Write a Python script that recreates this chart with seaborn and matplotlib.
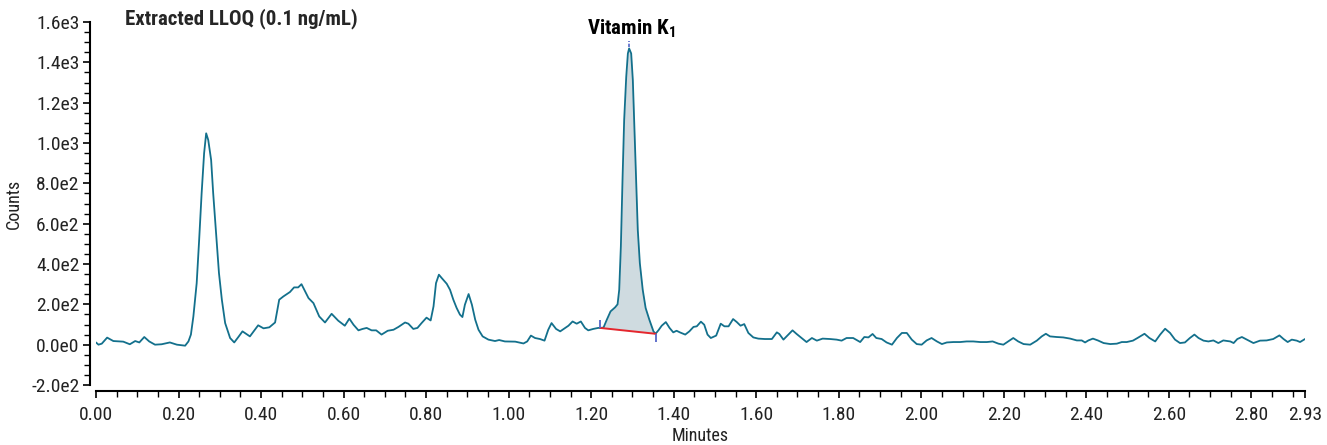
import numpy as np
import pandas as pd
import matplotlib
matplotlib.use("Agg")
import matplotlib.pyplot as plt
from matplotlib import font_manager
from matplotlib.ticker import MultipleLocator, FixedLocator
import seaborn as sns

# ---------------- data ----------------
minutes = [
    0.000, 0.006, 0.014, 0.027, 0.042, 0.066, 0.082, 0.095, 0.105, 0.117, 0.129, 0.143, 0.159, 0.179, 0.196, 0.216,
    0.224, 0.230, 0.236, 0.244, 0.250, 0.256, 0.262, 0.267, 0.272, 0.279, 0.284, 0.291, 0.298, 0.305, 0.313, 0.325,
    0.335, 0.345, 0.355, 0.373, 0.393, 0.406, 0.420, 0.434, 0.444, 0.454, 0.470, 0.480, 0.490, 0.498, 0.507, 0.515,
    0.527, 0.541, 0.555, 0.571, 0.587, 0.603, 0.614, 0.624, 0.636, 0.646, 0.656, 0.668, 0.679, 0.692, 0.707, 0.721,
    0.733, 0.749, 0.757, 0.769, 0.779, 0.789, 0.801, 0.811, 0.818, 0.824, 0.831, 0.838, 0.850, 0.858, 0.866, 0.874,
    0.882, 0.888, 0.894, 0.903, 0.911, 0.919, 0.927, 0.937, 0.951, 0.967, 0.977, 0.991, 1.016, 1.036, 1.045, 1.054,
    1.064, 1.076, 1.087, 1.096, 1.104, 1.115, 1.125, 1.137, 1.145, 1.155, 1.165, 1.175, 1.185, 1.193, 1.205, 1.217,
    1.222, 1.230, 1.238, 1.247, 1.258, 1.264, 1.268, 1.272, 1.276, 1.280, 1.285, 1.289, 1.292, 1.297, 1.301, 1.305,
    1.309, 1.313, 1.318, 1.325, 1.332, 1.341, 1.351, 1.356, 1.363, 1.371, 1.381, 1.390, 1.399, 1.407, 1.415, 1.428,
    1.438, 1.448, 1.456, 1.466, 1.474, 1.482, 1.490, 1.503, 1.514, 1.523, 1.533, 1.544, 1.553, 1.562, 1.571, 1.581,
    1.593, 1.605, 1.621, 1.638, 1.650, 1.656, 1.666, 1.678, 1.688, 1.698, 1.710, 1.722, 1.735, 1.747, 1.761, 1.779,
    1.795, 1.807, 1.819, 1.835, 1.852, 1.862, 1.872, 1.882, 1.891, 1.904, 1.916, 1.929, 1.941, 1.953, 1.965, 1.977,
    1.989, 2.001, 2.013, 2.025, 2.038, 2.050, 2.062, 2.078, 2.094, 2.110, 2.126, 2.143, 2.159, 2.173, 2.187, 2.199,
    2.207, 2.223, 2.235, 2.248, 2.264, 2.280, 2.292, 2.302, 2.312, 2.328, 2.344, 2.361, 2.377, 2.389, 2.397, 2.405,
    2.416, 2.428, 2.442, 2.458, 2.474, 2.486, 2.498, 2.513, 2.524, 2.541, 2.553, 2.567, 2.579, 2.591, 2.603, 2.615,
    2.627, 2.639, 2.651, 2.662, 2.672, 2.684, 2.696, 2.708, 2.720, 2.732, 2.749, 2.757, 2.766, 2.777, 2.789, 2.805,
    2.821, 2.837, 2.853, 2.868, 2.878, 2.888, 2.898, 2.910, 2.918, 2.930,
]
counts = [
    11, 0, 5, 35, 18, 15, 2, 18, 11, 38, 16, 0, 2, 11, 0, -5,
    16, 50, 140, 305, 520, 751, 949, 1048, 1015, 916, 751, 553, 355, 223, 107, 33,
    11, 38, 66, 41, 96, 81, 86, 110, 223, 239, 261, 284, 284, 300, 264, 231,
    206, 140, 110, 153, 119, 94, 129, 99, 71, 78, 83, 71, 71, 50, 69, 74,
    88, 110, 104, 78, 83, 107, 134, 120, 190, 305, 347, 330, 302, 272, 223, 182,
    149, 137, 198, 251, 198, 124, 74, 41, 25, 18, 23, 16, 15, 6, 16, 45,
    33, 28, 20, 74, 107, 78, 66, 83, 94, 115, 104, 115, 83, 71, 78, 83,
    83, 85, 124, 165, 185, 200, 272, 487, 817, 1114, 1328, 1444, 1469, 1444, 1312, 1064,
    800, 569, 404, 272, 182, 124, 66, 54, 71, 94, 112, 83, 61, 69, 61, 50,
    66, 88, 91, 114, 99, 50, 33, 45, 104, 91, 91, 127, 112, 94, 102, 58,
    36, 30, 28, 28, 61, 53, 25, 50, 71, 53, 33, 13, 33, 20, 30, 28,
    25, 20, 33, 33, 13, 38, 36, 53, 33, 28, 11, 0, 33, 58, 58, 25,
    3, 0, 21, 33, 16, 3, 11, 13, 13, 16, 16, 13, 13, 16, 5, 0,
    11, 33, 16, 3, 0, 20, 41, 54, 41, 38, 36, 30, 21, 21, 11, 21,
    30, 21, 8, 3, 5, 13, 13, 20, 33, 54, 33, 16, 50, 79, 58, 25,
    8, 11, 33, 50, 33, 20, 16, 21, 8, 21, 16, 8, 28, 38, 25, 8,
    20, 21, 28, 46, 28, 13, 25, 20, 13, 28,
]

# integrated peak (Vitamin K1)
peak_name = "Vitamin K"
peak_start = 1.222
peak_end = 1.356
peak_apex = 1.292
baseline_counts = [83, 54]

x_ticks = [0.00, 0.20, 0.40, 0.60, 0.80, 1.00, 1.20, 1.40, 1.60, 1.80, 2.00, 2.20, 2.40, 2.60, 2.80, 2.93]
x_tick_labels = ["0.00", "0.20", "0.40", "0.60", "0.80", "1.00", "1.20", "1.40", "1.60", "1.80",
                 "2.00", "2.20", "2.40", "2.60", "2.80", "2.93"]
y_ticks = [-200, 0, 200, 400, 600, 800, 1000, 1200, 1400, 1600]
y_tick_labels = ["-2.0e2", "0.0e0", "2.0e2", "4.0e2", "6.0e2", "8.0e2", "1.0e3", "1.2e3", "1.4e3", "1.6e3"]

title_text = "Extracted LLOQ (0.1 ng/mL)"
x_label = "Minutes"
y_label = "Counts"

# ---------------- style ----------------
sns.set_theme(style="ticks")
installed = {f.name for f in font_manager.fontManager.ttflist}
fam = [f for f in ["Liberation Sans Narrow", "Roboto Condensed", "Liberation Sans", "DejaVu Sans"] if f in installed]
plt.rcParams["font.family"] = fam
plt.rcParams["mathtext.fontset"] = "custom"
plt.rcParams["mathtext.rm"] = fam[0]
plt.rcParams["mathtext.bf"] = fam[0] + ":bold"

LINE = "#13708c"
FILL = "#cfdbe0"
RED = "#e5262d"
MARK = "#5566c8"

fig = plt.figure(figsize=(13.27, 4.45), dpi=100)
ax = fig.add_axes([96 / 1327, 1 - 385 / 445, (1305 - 96) / 1327, (385 - 22) / 445])

df = pd.DataFrame({"Minutes": minutes, "Counts": counts})
sns.lineplot(data=df, x="Minutes", y="Counts", ax=ax, color=LINE, linewidth=1.3, zorder=3)

# peak fill between trace and integration baseline
t = np.asarray(minutes)
c = np.asarray(counts, dtype=float)
mask = (t >= peak_start) & (t <= peak_end)
base = np.interp(t[mask], [peak_start, peak_end], baseline_counts)
ax.fill_between(t[mask], base, c[mask], color=FILL, zorder=1, linewidth=0)
ax.plot([peak_start, peak_end], baseline_counts, color=RED, linewidth=1.4, zorder=4)
ax.vlines(peak_start, baseline_counts[0], baseline_counts[0] + 40, color=MARK, linewidth=1.3, zorder=5)
ax.vlines(peak_end, baseline_counts[1] - 40, baseline_counts[1], color=MARK, linewidth=1.3, zorder=5)
ax.vlines(peak_apex, 1478, 1505, color=MARK, linewidth=1.2, linestyles=(0, (2, 1)), zorder=5)

ax.text(peak_apex + 0.005, 1512, peak_name + r"$_{\mathbf{1}}$", ha="center", va="bottom",
        fontsize=15, fontweight="bold", color="black")

ax.set_xlim(0, 2.93)
ax.set_ylim(-200, 1600)
ax.xaxis.set_major_locator(FixedLocator(x_ticks))
ax.set_xticklabels(x_tick_labels)
ax.xaxis.set_minor_locator(MultipleLocator(0.05))
ax.yaxis.set_major_locator(FixedLocator(y_ticks))
ax.set_yticklabels(y_tick_labels)
ax.yaxis.set_minor_locator(MultipleLocator(50))

ax.tick_params(axis="both", which="major", length=5, width=1.2, labelsize=14, color="black", labelcolor="#222222", pad=3)
ax.tick_params(axis="x", which="major", pad=6)
ax.tick_params(axis="both", which="minor", length=4, width=1.0, color="black")

sns.despine(ax=ax, offset=4)
ax.spines["left"].set_bounds(-200, 1600)
ax.spines["bottom"].set_bounds(0, 2.93)
for s in ("left", "bottom"):
    ax.spines[s].set_linewidth(1.5)
    ax.spines[s].set_color("black")

ax.set_xlabel(x_label, fontsize=13, labelpad=2, color="#222222")
ax.set_ylabel(y_label, fontsize=13, labelpad=6, color="#222222")
ax.set_title("")
fig.text(125 / 1327, 1 - 19 / 445, title_text, fontsize=15, fontweight="bold", ha="left", va="center")

fig.savefig("out.png", dpi=100)
